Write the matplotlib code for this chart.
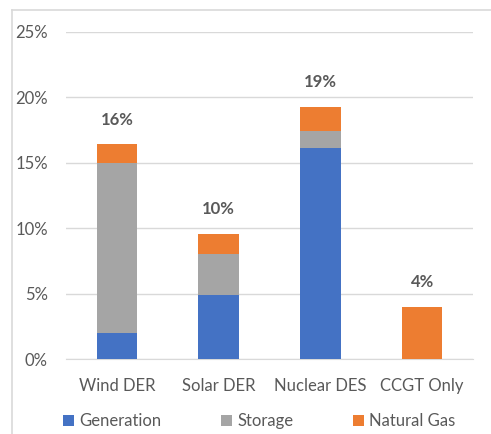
import matplotlib.pyplot as plt
import numpy as np

plt.rcParams["font.family"] = ["Lato", "DejaVu Sans"]

categories = ["Wind DER", "Solar DER", "Nuclear DES", "CCGT Only"]
generation = [2.0, 4.9, 16.1, 0.0]
storage = [13.0, 3.1, 1.3, 0.0]
natural_gas = [1.4, 1.55, 1.85, 4.0]
total_labels = ["16%", "10%", "19%", "4%"]

c_gen = "#4472C4"
c_sto = "#A5A5A5"
c_gas = "#ED7D31"
txt = "#595959"

W, H = 491, 434
fig = plt.figure(figsize=(W / 100, H / 100), dpi=100)
ax = fig.add_axes([66 / W, 1 - 359 / H, (473 - 66) / W, (359 - 31.7) / H])

x = np.arange(len(categories))
gen = np.array(generation)
sto = np.array(storage)
gas = np.array(natural_gas)
w = 0.4

ax.bar(x, gen, w, color=c_gen, label="Generation", zorder=3)
ax.bar(x, sto, w, bottom=gen, color=c_sto, label="Storage", zorder=3)
ax.bar(x, gas, w, bottom=gen + sto, color=c_gas, label="Natural Gas", zorder=3)

tops = gen + sto + gas
for xi, t, lab in zip(x, tops, total_labels):
    ax.annotate(lab, (xi, t), xytext=(0, 12), textcoords="offset points",
                ha="center", va="bottom", fontsize=12, fontweight="bold", color=txt)

ax.set_xlim(-0.5, 3.5)
ax.set_ylim(0, 25)
ax.set_yticks([0, 5, 10, 15, 20, 25])
ax.set_yticklabels(["0%", "5%", "10%", "15%", "20%", "25%"])
ax.set_xticks(x)
ax.set_xticklabels(categories)
ax.tick_params(length=0, labelsize=12, labelcolor=txt)
ax.tick_params(axis="y", pad=13)
ax.tick_params(axis="x", pad=14)
ax.grid(axis="y", color="#D9D9D9", lw=1, zorder=0)
for s in ["top", "right", "left"]:
    ax.spines[s].set_visible(False)
ax.spines["bottom"].set_color("#D9D9D9")

ax.legend(loc="upper center", bbox_to_anchor=(0.475, -0.12), ncol=3, frameon=False,
          fontsize=12, labelcolor=txt, handlelength=0.65, handleheight=0.65,
          handletextpad=0.3, columnspacing=3.6)

# chart border (cropped on right/bottom)
fig.add_artist(plt.Line2D([12 / W, 12 / W], [0, 1 - 10 / H], color="#D9D9D9", lw=1.2))
fig.add_artist(plt.Line2D([12 / W, 1], [1 - 10 / H, 1 - 10 / H], color="#D9D9D9", lw=1.2))

fig.savefig("out.png", dpi=100)
